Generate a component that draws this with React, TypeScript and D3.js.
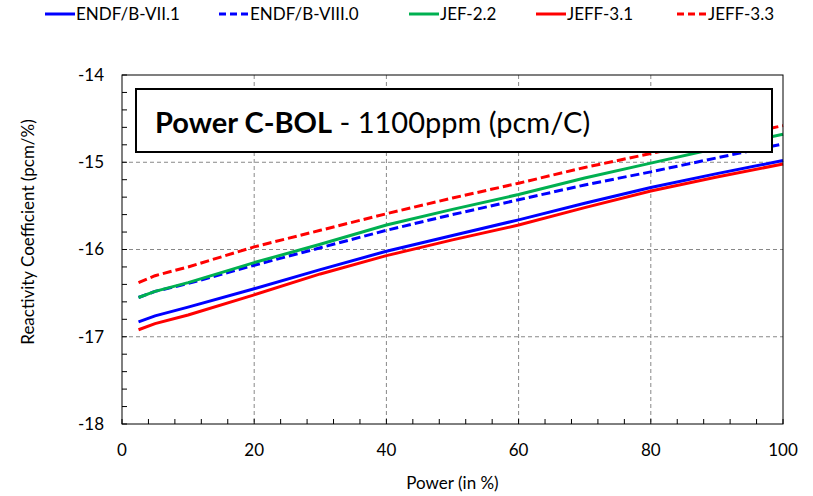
import React from 'react'
import * as d3 from 'd3'

// power levels (%)
const power = [2.5, 5, 10, 20, 30, 40, 50, 60, 70, 80, 90, 100]

// reactivity coefficient (pcm/%) per library
const endf71 = [-16.83, -16.76, -16.66, -16.45, -16.23, -16.02, -15.84, -15.66, -15.47, -15.29, -15.13, -14.98]
const endf80 = [-16.55, -16.48, -16.39, -16.18, -15.98, -15.78, -15.60, -15.43, -15.26, -15.11, -14.95, -14.79]
const jef22 = [-16.55, -16.48, -16.38, -16.15, -15.94, -15.72, -15.54, -15.37, -15.18, -15.01, -14.84, -14.68]
const jeff31 = [-16.92, -16.85, -16.75, -16.52, -16.28, -16.07, -15.89, -15.72, -15.52, -15.33, -15.17, -15.02]
const jeff33 = [-16.38, -16.30, -16.20, -15.97, -15.78, -15.59, -15.41, -15.24, -15.06, -14.90, -14.74, -14.58]

const seriesNames = ['ENDF/B-VII.1', 'ENDF/B-VIII.0', 'JEF-2.2', 'JEFF-3.1', 'JEFF-3.3']
const seriesValues = [endf71, endf80, jef22, jeff31, jeff33]
const seriesColors = ['#0000ff', '#0000ff', '#00b050', '#ff0000', '#ff0000']
const seriesDashed = [false, true, false, false, true]

const xTicks = [0, 20, 40, 60, 80, 100]
const yTicks = [-18, -17, -16, -15, -14]

const FONT = "Lato, 'Open Sans', sans-serif"

export default function App() {
    const width = 813
    const height = 496
    const left = 122, top = 75, right = 783, bottom = 424

    const x = d3.scaleLinear().domain([0, 100]).range([left, right])
    const y = d3.scaleLinear().domain([-18, -14]).range([bottom, top])

    const line = d3.line<number>()
        .x((d, i) => x(power[i]))
        .y(d => y(d))

    const xMinor = d3.range(0, 101, 4)
    const yMinor = d3.range(-18, -13.99, 0.2)

    // legend slot starts (px)
    const legendX = [45, 219, 409, 536, 677]

    return (
        <div style={{ position: 'fixed', left: 0, top: 0, width, height, overflow: 'hidden' }}>
            <svg width={width} height={height} style={{ display: 'block', fontFamily: FONT }}>
                <rect width={width} height={height} fill="#fff" />

                {/* gridlines */}
                {xTicks.filter(t => t > 0 && t < 100).map(t =>
                    <line key={'gx' + t} x1={x(t)} x2={x(t)} y1={top} y2={bottom}
                        stroke="#888" strokeWidth={1} strokeDasharray="4,3" />
                )}
                {yTicks.filter(t => t > -18 && t < -14).map(t =>
                    <line key={'gy' + t} x1={left} x2={right} y1={y(t)} y2={y(t)}
                        stroke="#888" strokeWidth={1} strokeDasharray="4,3" />
                )}

                {/* series */}
                {seriesValues.map((vals, i) =>
                    <path key={seriesNames[i]} d={line(vals) || ''} fill="none"
                        stroke={seriesColors[i]} strokeWidth={3}
                        strokeDasharray={seriesDashed[i] ? '9,4' : undefined} />
                )}

                {/* title box */}
                <rect x={136} y={89} width={636} height={63} fill="#fff" stroke="#000" strokeWidth={2} />
                <text x={155} y={133} fontSize={29} fill="#000">
                    <tspan fontWeight="bold">Power C-BOL</tspan>
                    <tspan> - 1100ppm (pcm/C)</tspan>
                </text>

                {/* frame */}
                <rect x={left} y={top} width={right - left} height={bottom - top}
                    fill="none" stroke="#000" strokeWidth={1} />

                {/* minor ticks */}
                {xMinor.map(t =>
                    <line key={'mx' + t} x1={x(t)} x2={x(t)} y1={bottom} y2={bottom - 5} stroke="#000" />
                )}
                {yMinor.map(t =>
                    <line key={'my' + t} x1={left} x2={left + 5} y1={y(t)} y2={y(t)} stroke="#000" />
                )}

                {/* tick labels */}
                {xTicks.map(t =>
                    <text key={'lx' + t} x={x(t)} y={456} textAnchor="middle" fontSize={17} fill="#000">{t}</text>
                )}
                {yTicks.map(t =>
                    <text key={'ly' + t} x={104} y={y(t)} dy="0.35em" textAnchor="end" fontSize={17} fill="#000">{t}</text>
                )}

                {/* axis titles */}
                <text x={(left + right) / 2} y={489} textAnchor="middle" fontSize={17} fill="#000">Power (in %)</text>
                <text transform={`translate(34,232) rotate(-90)`} textAnchor="middle" fontSize={17} fill="#000">
                    Reactivity Coefficient (pcm/%)
                </text>

                {/* legend */}
                {seriesNames.map((name, i) =>
                    <g key={'lg' + name} transform={`translate(${legendX[i]},14)`}>
                        <line x1={0} x2={30} y1={0} y2={0} stroke={seriesColors[i]} strokeWidth={3}
                            strokeDasharray={seriesDashed[i] ? '7,4' : undefined} />
                        <text x={31} y={0} dy="0.35em" fontSize={17} fill="#000">{name}</text>
                    </g>
                )}
            </svg>
        </div>
    )
}
